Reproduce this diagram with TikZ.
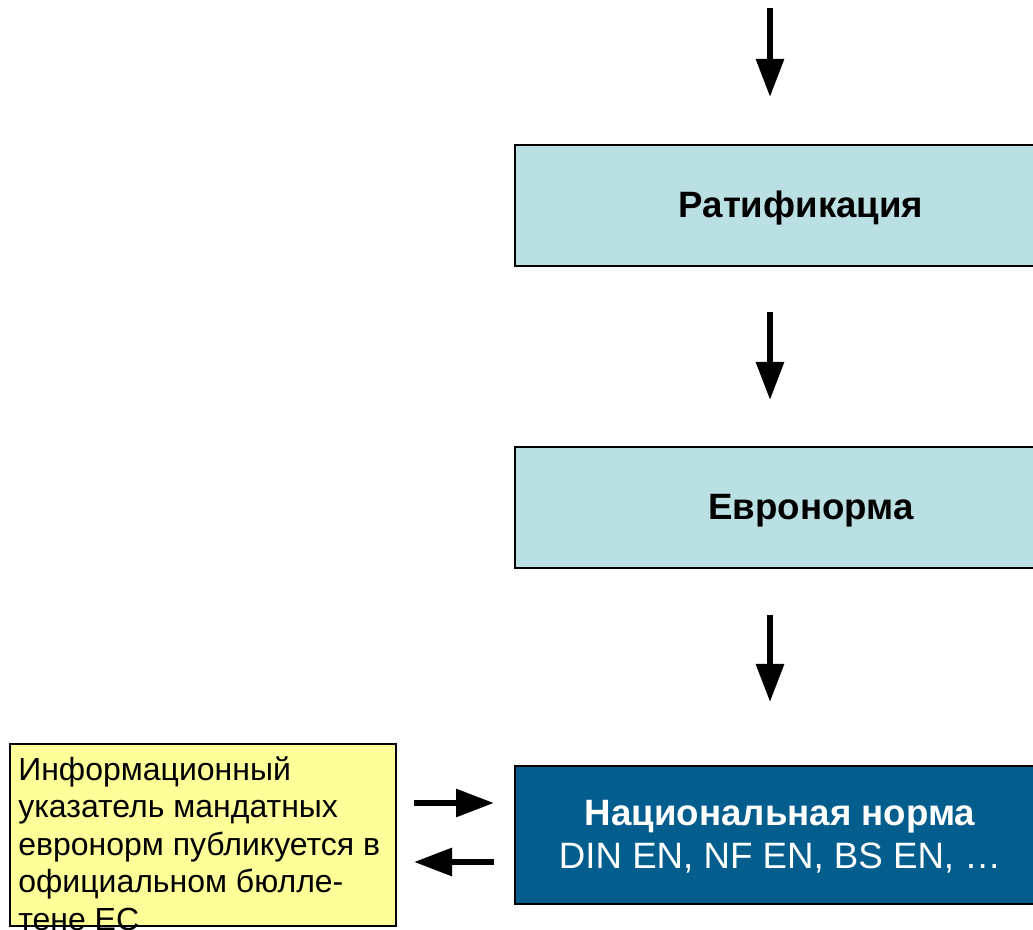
\documentclass[tikz,border=0pt]{standalone}
\usepackage{fontspec}
\setmainfont{Liberation Sans}
\usetikzlibrary{arrows.meta}
\definecolor{lightbox}{HTML}{BBE0E3}
\definecolor{darkbox}{HTML}{035E8E}
\definecolor{yellowbox}{HTML}{FFFF99}
\begin{document}
\begin{tikzpicture}[x=0.75pt,y=-0.75pt,
  box/.style={draw=black, line width=1.5pt, inner sep=0pt, minimum width=397.5pt},
  lbox/.style={box, fill=lightbox, minimum height=90.75pt},
  dbox/.style={box, fill=darkbox, minimum height=103.5pt},
  ybox/.style={draw=black, line width=1.5pt, fill=yellowbox, inner sep=0pt, minimum width=289.5pt, minimum height=136.5pt},
  boldtxt/.style={inner sep=0pt, font=\fontsize{27.5}{32}\selectfont\bfseries},
  infotxt/.style={inner sep=0pt, align=left, font=\fontsize{24}{28.1}\selectfont},
  arr/.style={line width=4.5pt, -{Triangle[width=20.25pt,length=28.5pt]}}
]
\useasboundingbox (0,0) rectangle (1033,930);
\clip (0,0) rectangle (1033,930);
% boxes
\node[lbox] (rat) at (780,205.5) {};
\node[boldtxt, anchor=base] (rattxt) at (801,218) {Ратификация};
\node[lbox] (euro) at (780,507.5) {};
\node[boldtxt, anchor=base] (eurotxt) at (811,520) {Евронорма};
\node[dbox] (nat) at (780,835) {};
\node[boldtxt, anchor=base, text=white] (nattxt) at (780,825) {Национальная норма};
\node[inner sep=0pt, anchor=base, text=white, font=\fontsize{27.5}{32}\selectfont] (natsub) at (780,868) {DIN EN, NF EN, BS EN, …};
\node[ybox] (info) at (203,835) {};
\node[infotxt, anchor=base west] (infotxt) at (18,930) {Информационный\\указатель мандатных\\евронорм публикуется в\\официальном бюлле-\\тене ЕС};
% arrows
\coordinate (top) at (770,8);
\draw[arr, shorten >=35.25pt] (top) -- (top |- rat.north);
\draw[arr, shorten <=33.75pt, shorten >=34.5pt] (top |- rat.south) -- (top |- euro.north);
\draw[arr, shorten <=34.5pt, shorten >=47.25pt] (top |- euro.south) -- (top |- nat.north);
\coordinate (r1) at (0,803);
\coordinate (r2) at (0,862);
\draw[arr, shorten <=12.75pt, shorten >=15pt] (r1 -| info.east) -- (r1 -| nat.west);
\draw[arr, shorten <=15pt, shorten >=12.75pt] (r2 -| nat.west) -- (r2 -| info.east);
\end{tikzpicture}
\end{document}
